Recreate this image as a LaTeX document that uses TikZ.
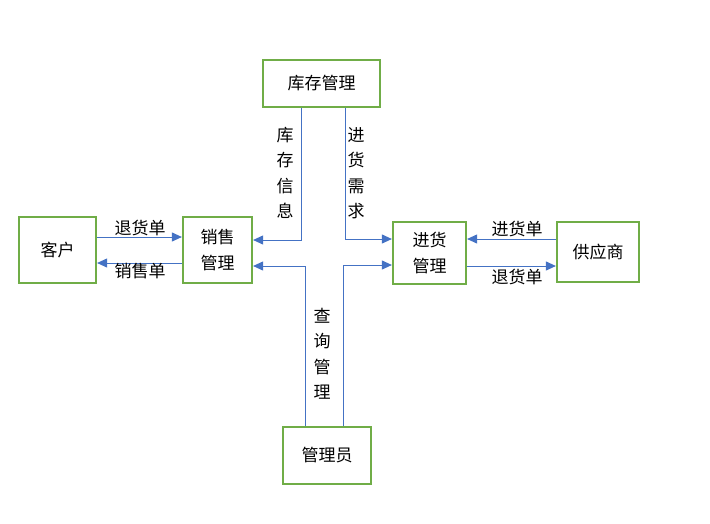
\documentclass[tikz,border=0pt]{standalone}
\usepackage{fontspec}
\setmainfont{Noto Sans CJK SC}
\usetikzlibrary{arrows.meta}
\definecolor{boxgreen}{HTML}{70AD47}
\definecolor{lineblue}{HTML}{4472C4}
\tikzset{
  box/.style={draw=boxgreen, line width=2.2pt, fill=white, inner sep=0pt, font=\fontsize{17}{26}\selectfont},
  arr/.style={draw=lineblue, line width=1pt, -{Triangle[length=10pt,width=9pt]}},
  lbl/.style={inner sep=0pt, font=\fontsize{17}{20}\selectfont},
  vlbl/.style={inner sep=0pt, align=center, font=\fontsize{17}{25.5}\selectfont}
}
\begin{document}
\begin{tikzpicture}[x=1pt,y=-1pt]
\useasboundingbox (0,0) rectangle (710,523);
\node[box, minimum width=77pt, minimum height=66pt] (kh) at (57.5,250) {客户};
\node[box, minimum width=69pt, minimum height=66pt, align=center] (xs) at (217.5,250) {销售\\管理};
\node[box, minimum width=117pt, minimum height=47pt] (kc) at (321.5,83.5) {库存管理};
\node[box, minimum width=73pt, minimum height=62pt, align=center] (jh) at (429.5,253) {进货\\管理};
\node[box, minimum width=82pt, minimum height=60pt] (gys) at (598,252) {供应商};
\node[box, minimum width=88pt, minimum height=57pt] (gly) at (327,455.5) {管理员};

\draw[arr] ([yshift=13pt]kh.east) -- ([yshift=13pt]xs.west);
\draw[arr] ([yshift=-13pt]xs.west) -- ([yshift=-13pt]kh.east);
\draw[arr] ([xshift=-20.5pt]kc.south) |- ([yshift=10pt]xs.east);
\draw[arr] ([xshift=23.5pt]kc.south) |- ([yshift=14pt]jh.west);
\draw[arr] ([xshift=-22pt]gly.north) |- ([yshift=-16pt]xs.east);
\draw[arr] ([xshift=16pt]gly.north) |- ([yshift=-12pt]jh.west);
\draw[arr] ([yshift=13pt]gys.west) -- ([yshift=13pt]gys.west -| jh.east);
\draw[arr] ([yshift=-13pt]jh.east) -- ([yshift=-13pt]jh.east -| gys.west);

\node[lbl] (l1) at (140,227.5) {退货单};
\node[lbl] (l2) at (140,271) {销售单};
\node[lbl] (l3) at (517,228.5) {进货单};
\node[lbl] (l4) at (517,276.5) {退货单};
\node[vlbl] (l5) at (285,173) {库\\存\\信\\息};
\node[vlbl] (l6) at (356,173) {进\\货\\需\\求};
\node[vlbl] (l7) at (322,354) {查\\询\\管\\理};
\end{tikzpicture}
\end{document}
